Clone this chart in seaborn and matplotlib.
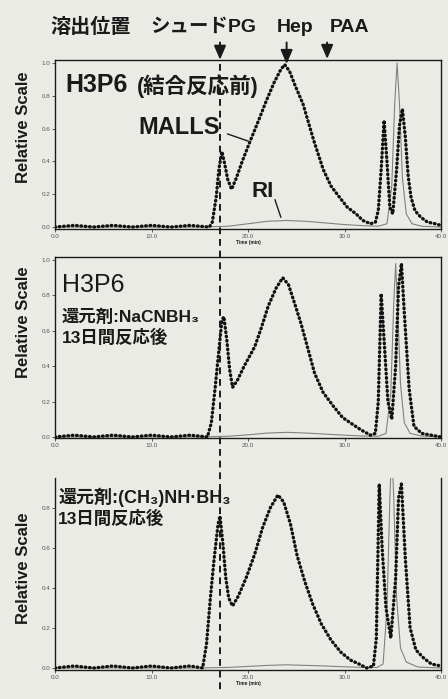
import matplotlib
matplotlib.use('Agg')
import matplotlib.pyplot as plt
import matplotlib.lines as mlines
import seaborn as sns

# elution time (min) and relative scale
# panel 1: H3P6 before coupling
t1_malls = [0, 2, 4, 6, 8, 10, 12, 14, 16.0, 16.3, 16.7, 17.0, 17.3, 17.6, 17.9, 18.3, 18.8,
            19.4, 20.2, 21.1, 21.9, 22.7, 23.4, 23.8, 24.3, 24.9, 25.7, 26.3, 26.8, 27.3, 27.8,
            28.6, 29.5, 30.3, 31.2, 31.9, 32.7, 33.2, 33.5, 33.8, 34.1, 34.4, 34.7, 35.0, 35.4,
            35.7, 36.0, 36.3, 36.6, 36.9, 37.3, 37.9, 38.6, 39.4, 40]
v1_malls = [0.0, 0.01, 0.0, 0.01, 0.0, 0.01, 0.0, 0.01, 0.0, 0.03, 0.18, 0.36, 0.46, 0.38, 0.29,
            0.23, 0.30, 0.40, 0.52, 0.65, 0.77, 0.88, 0.96, 0.99, 0.95, 0.86, 0.75, 0.63, 0.53,
            0.44, 0.35, 0.25, 0.18, 0.12, 0.08, 0.04, 0.02, 0.03, 0.10, 0.35, 0.65, 0.40, 0.12,
            0.08, 0.35, 0.62, 0.72, 0.55, 0.31, 0.18, 0.10, 0.06, 0.03, 0.02, 0.01]
t1_ri = [0, 15, 18, 20, 22, 24, 26, 28, 30, 32, 33.5, 34.4, 34.9, 35.2, 35.45, 35.7, 36.0, 36.4,
         37.0, 38.0, 40]
v1_ri = [0.0, 0.0, 0.005, 0.02, 0.035, 0.04, 0.035, 0.025, 0.015, 0.008, 0.005, 0.02, 0.25,
         0.75, 1.0, 0.75, 0.30, 0.08, 0.02, 0.005, 0.0]

# panel 2: H3P6, NaCNBH3, 13 days
t2_malls = [0, 2, 4, 6, 8, 10, 12, 14, 15.8, 16.2, 16.6, 17.0, 17.3, 17.5, 17.8, 18.1, 18.4,
            18.9, 19.6, 20.7, 21.4, 22.1, 22.9, 23.6, 24.2, 24.8, 25.5, 26.2, 26.9, 27.8, 28.9,
            29.8, 30.6, 31.7, 32.7, 33.2, 33.5, 33.8, 34.1, 34.5, 34.9, 35.3, 35.6, 35.9, 36.2,
            36.7, 37.2, 38.0, 39.0, 40]
v2_malls = [0.0, 0.01, 0.0, 0.01, 0.0, 0.01, 0.0, 0.01, 0.0, 0.08, 0.28, 0.50, 0.66, 0.68, 0.55,
            0.38, 0.28, 0.32, 0.40, 0.51, 0.62, 0.74, 0.84, 0.90, 0.86, 0.76, 0.64, 0.50, 0.36,
            0.25, 0.17, 0.11, 0.08, 0.04, 0.01, 0.02, 0.20, 0.81, 0.55, 0.20, 0.10, 0.40, 0.85,
            0.98, 0.70, 0.27, 0.06, 0.02, 0.01, 0.0]
t2_ri = [0, 15, 18, 20, 22, 24, 26, 28, 30, 32, 33.5, 34.3, 34.8, 35.1, 35.3, 35.5, 35.8, 36.2,
         36.8, 38.0, 40]
v2_ri = [0.0, 0.0, 0.004, 0.012, 0.022, 0.026, 0.022, 0.016, 0.01, 0.005, 0.004, 0.02, 0.25,
         0.75, 0.98, 0.75, 0.30, 0.08, 0.02, 0.005, 0.0]

# panel 3: H3P6, (CH3)NH-BH3, 13 days
t3_malls = [0, 2, 4, 6, 8, 10, 12, 14, 15.3, 15.7, 16.1, 16.5, 16.9, 17.1, 17.4, 17.7, 18.0,
            18.4, 19.0, 19.8, 20.7, 21.5, 22.3, 23.1, 23.7, 24.4, 25.1, 25.9, 26.7, 27.6, 28.6,
            29.6, 30.6, 31.5, 32.3, 33.0, 33.3, 33.6, 33.9, 34.3, 34.8, 35.3, 35.6, 35.9, 36.3,
            36.8, 37.4, 38.2, 39.0, 40]
v3_malls = [0.0, 0.01, 0.0, 0.01, 0.0, 0.01, 0.0, 0.01, 0.0, 0.12, 0.35, 0.55, 0.72, 0.76, 0.62,
            0.45, 0.35, 0.31, 0.36, 0.45, 0.57, 0.70, 0.80, 0.865, 0.83, 0.72, 0.56, 0.43, 0.32,
            0.22, 0.14, 0.08, 0.04, 0.02, 0.0, 0.01, 0.15, 0.92, 0.60, 0.30, 0.15, 0.45, 0.85,
            0.92, 0.55, 0.20, 0.09, 0.05, 0.02, 0.01]
t3_ri = [0, 15, 18, 20, 22, 24, 26, 28, 30, 32, 33.4, 34.0, 34.4, 34.7, 34.9, 35.1, 35.4, 35.8,
         36.4, 37.6, 40]
v3_ri = [0.0, 0.0, 0.003, 0.008, 0.013, 0.016, 0.013, 0.01, 0.006, 0.003, 0.003, 0.02, 0.30,
         0.85, 1.10, 0.85, 0.35, 0.10, 0.03, 0.005, 0.0]

# elution markers at the top
marker_names = ['シュードPG', 'Hep', 'PAA']
marker_times = [17.1, 24.0, 28.2]

x_ticks = [0, 10, 20, 30, 40]
x_labels = ['0.0', '10.0', '20.0', '30.0', '40.0']
y_ticks = [0.0, 0.2, 0.4, 0.6, 0.8, 1.0]
y_labels = ['0.0', '0.2', '0.4', '0.6', '0.8', '1.0']

sns.set_theme(style='white')
plt.rcParams['font.family'] = ['Liberation Sans', 'Noto Sans CJK JP', 'DejaVu Sans']

PAPER = '#ebebe6'
INK = '#1a1a1a'
W, H = 448, 699


def box(left, top, right, bottom):
    # pixel box -> figure fraction rect
    return [left / W, 1 - bottom / H, (right - left) / W, (bottom - top) / H]


def draw_panel(ax, t_m, v_m, t_r, v_r, ylim, label_y, top_spine=True):
    ax.set_facecolor(PAPER)
    sns.lineplot(x=t_r, y=v_r, ax=ax, color='#808080', lw=0.8, sort=False, estimator=None)
    # beaded thick trace like the scanned MALLS signal
    sns.lineplot(x=t_m, y=v_m, ax=ax, color='#111111', lw=2.4, sort=False, estimator=None,
                 linestyle=(0, (0.2, 1.1)), dash_capstyle='round')
    ax.set_xlim(0, 40)
    ax.set_xticks(x_ticks, x_labels)
    ax.set_yticks(y_ticks, y_labels)
    ax.set_ylim(*ylim)
    ax.tick_params(labelsize=4.5, labelcolor='#555555', length=2, width=0.6, pad=1.5,
                   color='#444444', bottom=True, left=True)
    for side in ['left', 'right', 'bottom', 'top']:
        ax.spines[side].set_color(INK)
        ax.spines[side].set_linewidth(1.0)
    ax.spines['top'].set_visible(top_spine)
    ax.set_ylabel('Relative Scale', fontsize=12, fontweight='bold', color=INK)
    ax.yaxis.set_label_coords(-0.062, label_y)
    ax.set_xlabel('')


fig = plt.figure(figsize=(W / 100, H / 100), dpi=100)
fig.patch.set_facecolor(PAPER)

ax1 = fig.add_axes(box(55, 60, 441, 229))
ax2 = fig.add_axes(box(55, 257, 441, 438))
ax3 = fig.add_axes(box(55, 478, 441, 670))

draw_panel(ax1, t1_malls, v1_malls, t1_ri, v1_ri, (-0.012, 1.018), 0.6)
draw_panel(ax2, t2_malls, v2_malls, t2_ri, v2_ri, (-0.006, 1.017), 0.64)
draw_panel(ax3, t3_malls, v3_malls, t3_ri, v3_ri, (-0.01, 0.95), 0.53, top_spine=False)

for ax in [ax1, ax3]:
    ax.set_xlabel('Time (min)', fontsize=3.5, fontweight='bold', color=INK, labelpad=1)

# panel texts
ax1.text(0.026, 0.852, 'H3P6', transform=ax1.transAxes, fontsize=18, fontweight='bold',
         color=INK, va='center')
ax1.text(0.212, 0.845, '(結合反応前)', transform=ax1.transAxes, fontsize=15.5, fontweight='bold',
         color=INK, va='center')
ax1.text(0.215, 0.598, 'MALLS', transform=ax1.transAxes, fontsize=17, fontweight='bold',
         color=INK, va='center')
ax1.annotate('', xy=(20.3, 0.518), xytext=(17.6, 0.573),
             arrowprops=dict(arrowstyle='-', color=INK, lw=1.0))
ax1.text(0.51, 0.219, 'RI', transform=ax1.transAxes, fontsize=16, fontweight='bold',
         color=INK, va='center')
ax1.annotate('', xy=(23.5, 0.043), xytext=(22.7, 0.183),
             arrowprops=dict(arrowstyle='-', color=INK, lw=1.0))

ax2.text(0.018, 0.845, 'H3P6', transform=ax2.transAxes, fontsize=18, color=INK, va='center')
ax2.text(0.018, 0.669, '還元剤:NaCNBH₃', transform=ax2.transAxes, fontsize=12.5,
         fontweight='bold', color=INK, va='center')
ax2.text(0.018, 0.558, '13日間反応後', transform=ax2.transAxes, fontsize=12.5,
         fontweight='bold', color=INK, va='center')

ax3.text(0.008, 0.901, '還元剤:(CH₃)NH·BH₃', transform=ax3.transAxes, fontsize=13,
         fontweight='bold', color=INK, va='center')
ax3.text(0.008, 0.792, '13日間反応後', transform=ax3.transAxes, fontsize=12.5,
         fontweight='bold', color=INK, va='center')

# header and elution arrows
fig.text(50 / W, 1 - 27 / H, '溶出位置', fontsize=14.5, fontweight='bold', color=INK, va='center')
header_x = [150, 277, 330]
for name, px in zip(marker_names, header_x):
    fig.text(px / W, 1 - 27 / H, name, fontsize=14, fontweight='bold', color=INK, va='center')

tips = [0.985, 0.96, 0.99]
for t, tip in zip(marker_times, tips):
    ax1.annotate('', xy=(t, tip), xycoords=('data', 'axes fraction'),
                 xytext=(t, 1.12), textcoords=('data', 'axes fraction'),
                 arrowprops=dict(arrowstyle='-|>,head_length=0.7,head_width=0.3',
                                 color=INK, lw=1.4), annotation_clip=False)

# dashed line through all three panels at the PG elution position
x_disp = ax1.transData.transform((marker_times[0], 0))[0]
x_fig = fig.transFigure.inverted().transform((x_disp, 0))[0]
fig.add_artist(mlines.Line2D([x_fig, x_fig], [1 - 64 / H, 1 - 692 / H], color=INK, lw=1.4,
                             linestyle=(0, (3.5, 2.5)), transform=fig.transFigure))

fig.savefig('out.png', dpi=100, facecolor=PAPER)
